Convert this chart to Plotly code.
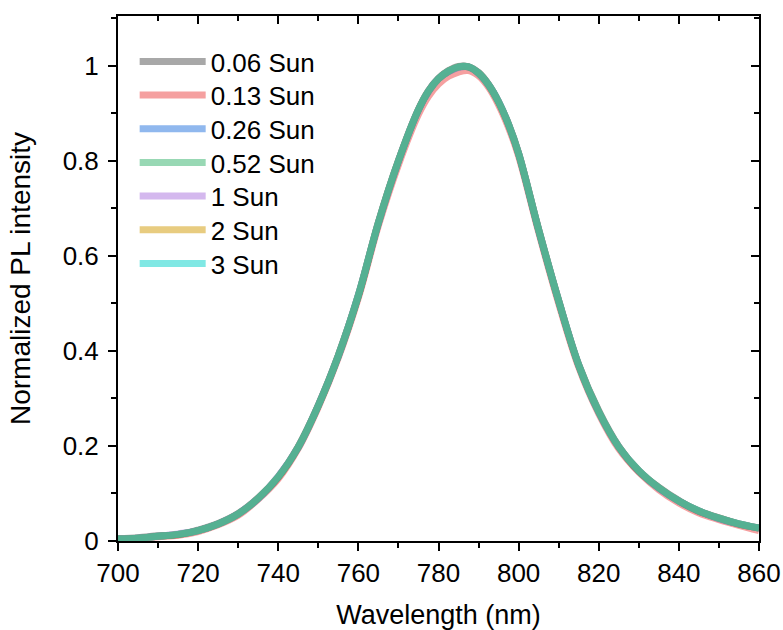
import plotly.graph_objects as go

wavelength = [700, 705, 710, 715, 720, 725, 730, 735, 740, 745, 750, 755, 760, 765,
              770, 775, 777.5, 780, 782.5, 785, 787.5, 790, 792.5, 795, 797.5, 800, 805,
              810, 815, 820, 825, 830, 835, 840, 845, 850, 855, 860]

sun_006 = [0.005, 0.007, 0.011, 0.013, 0.023, 0.037, 0.058, 0.091, 0.134, 0.199, 0.286,
           0.391, 0.516, 0.671, 0.801, 0.909, 0.948, 0.974, 0.990, 0.999, 0.998, 0.986,
           0.961, 0.924, 0.877, 0.816, 0.656, 0.506, 0.371, 0.274, 0.199, 0.146, 0.113,
           0.085, 0.062, 0.049, 0.035, 0.028]
sun_013 = [0.003, 0.005, 0.009, 0.012, 0.020, 0.034, 0.054, 0.088, 0.131, 0.195, 0.282,
           0.386, 0.512, 0.664, 0.792, 0.898, 0.936, 0.962, 0.978, 0.987, 0.990, 0.979,
           0.955, 0.918, 0.870, 0.810, 0.650, 0.500, 0.366, 0.268, 0.194, 0.145, 0.108,
           0.080, 0.059, 0.045, 0.033, 0.022]
sun_026 = [0.004, 0.006, 0.010, 0.014, 0.022, 0.036, 0.057, 0.089, 0.135, 0.197, 0.285,
           0.389, 0.517, 0.669, 0.799, 0.907, 0.946, 0.973, 0.988, 0.997, 0.998, 0.984,
           0.960, 0.925, 0.876, 0.815, 0.654, 0.505, 0.370, 0.271, 0.198, 0.148, 0.111,
           0.084, 0.063, 0.047, 0.036, 0.027]
sun_052 = [0.004, 0.006, 0.010, 0.014, 0.022, 0.036, 0.057, 0.090, 0.135, 0.198, 0.285,
           0.390, 0.517, 0.670, 0.800, 0.908, 0.947, 0.973, 0.989, 0.998, 0.998, 0.985,
           0.960, 0.924, 0.876, 0.815, 0.655, 0.505, 0.370, 0.272, 0.198, 0.148, 0.112,
           0.084, 0.063, 0.048, 0.036, 0.027]
sun_1 = [0.004, 0.006, 0.010, 0.015, 0.022, 0.036, 0.057, 0.090, 0.136, 0.198, 0.285,
         0.390, 0.518, 0.670, 0.800, 0.908, 0.947, 0.973, 0.989, 0.998, 0.998, 0.985,
         0.960, 0.924, 0.876, 0.815, 0.655, 0.505, 0.370, 0.272, 0.198, 0.148, 0.112,
         0.084, 0.063, 0.048, 0.036, 0.027]
sun_2 = [0.004, 0.006, 0.010, 0.014, 0.022, 0.036, 0.057, 0.090, 0.135, 0.198, 0.285,
         0.390, 0.517, 0.670, 0.800, 0.908, 0.947, 0.973, 0.989, 0.998, 0.998, 0.985,
         0.960, 0.924, 0.876, 0.815, 0.655, 0.505, 0.370, 0.272, 0.198, 0.148, 0.112,
         0.084, 0.063, 0.048, 0.036, 0.027]
sun_3 = [0.004, 0.006, 0.010, 0.014, 0.022, 0.036, 0.057, 0.090, 0.135, 0.198, 0.285,
         0.390, 0.517, 0.670, 0.800, 0.908, 0.947, 0.973, 0.989, 0.998, 0.998, 0.985,
         0.960, 0.924, 0.876, 0.815, 0.655, 0.505, 0.370, 0.272, 0.198, 0.148, 0.112,
         0.084, 0.063, 0.048, 0.036, 0.027]

series_names = ["0.06 Sun", "0.13 Sun", "0.26 Sun", "0.52 Sun", "1 Sun", "2 Sun", "3 Sun"]
series_values = [sun_006, sun_013, sun_026, sun_052, sun_1, sun_2, sun_3]
series_colors = ["rgba(81,81,81,0.5)", "rgba(235,65,65,0.5)", "rgba(33,113,221,0.5)",
                 "rgba(49,177,105,0.5)", "rgba(169,113,221,0.5)", "rgba(209,153,1,0.5)",
                 "rgba(1,209,201,0.5)"]

x_ticks = [700, 720, 740, 760, 780, 800, 820, 840, 860]
y_ticks = [0, 0.2, 0.4, 0.6, 0.8, 1]
y_tick_text = ["0", "0.2", "0.4", "0.6", "0.8", "1"]

FONT = "Liberation Sans, Arial, sans-serif"

fig = go.Figure()
legend_layouts = {}
for i, (name, vals, col) in enumerate(zip(series_names, series_values, series_colors)):
    key = "legend" if i == 0 else f"legend{i + 1}"
    fig.add_trace(go.Scatter(
        x=wavelength, y=vals, name=name, mode="lines",
        line=dict(color=col, width=7, shape="spline", smoothing=1.0),
        legend=key,
    ))
    legend_layouts[key] = dict(
        x=0.026, y=0.958 - i * 0.06413, xanchor="left", yanchor="top",
        bgcolor="rgba(0,0,0,0)", font=dict(family=FONT, size=26, color="black"),
        itemwidth=66,
    )

# invisible trace to activate mirror axes (top/right, inward ticks)
fig.add_trace(go.Scatter(x=[wavelength[0]], y=[sun_3[0]], xaxis="x2", yaxis="y2",
                         mode="markers", marker=dict(opacity=0), showlegend=False,
                         hoverinfo="skip"))

XR = [700, 860]
YR = [0, 1.105]

fig.update_layout(
    width=783, height=630,
    margin=dict(l=118, r=24, t=16, b=89, autoexpand=False),
    paper_bgcolor="white", plot_bgcolor="white",
    font=dict(family=FONT, size=26, color="black"),
    showlegend=True,
    xaxis=dict(range=XR, showgrid=False, zeroline=False, showline=True, linecolor="black",
               linewidth=2, ticks="outside", tickwidth=2, ticklen=8, tickcolor="black",
               tickvals=x_ticks, tickfont=dict(size=26), automargin=False,
               minor=dict(ticks="outside", dtick=10, tick0=700, ticklen=5, tickwidth=2, tickcolor="black"),
               title=dict(text="Wavelength (nm)", font=dict(size=27), standoff=18)),
    yaxis=dict(range=YR, showgrid=False, zeroline=False, showline=True, linecolor="black",
               linewidth=2, ticks="outside", tickwidth=2, ticklen=8, tickcolor="black",
               tickvals=y_ticks, ticktext=y_tick_text, tickfont=dict(size=26), automargin=False,
               ticklabelstandoff=4,
               minor=dict(ticks="outside", dtick=0.1, tick0=0, ticklen=5, tickwidth=2, tickcolor="black"),
               title=dict(text="Normalized PL intensity", font=dict(size=28), standoff=24)),
    xaxis2=dict(range=XR, overlaying="x", side="top", showgrid=False, zeroline=False,
                showline=True, linecolor="black", linewidth=2, ticks="inside", ticklen=8,
                tickwidth=2, tickcolor="black", tickvals=x_ticks, showticklabels=False,
                automargin=False,
                minor=dict(ticks="inside", dtick=10, tick0=700, ticklen=5, tickwidth=2, tickcolor="black")),
    yaxis2=dict(range=YR, overlaying="y", side="right", showgrid=False, zeroline=False,
                showline=True, linecolor="black", linewidth=2, ticks="inside", ticklen=8,
                tickwidth=2, tickcolor="black", tickvals=y_ticks, showticklabels=False,
                automargin=False,
                minor=dict(ticks="inside", dtick=0.1, tick0=0, ticklen=5, tickwidth=2, tickcolor="black")),
    **legend_layouts,
)

fig.write_html("out.html")
